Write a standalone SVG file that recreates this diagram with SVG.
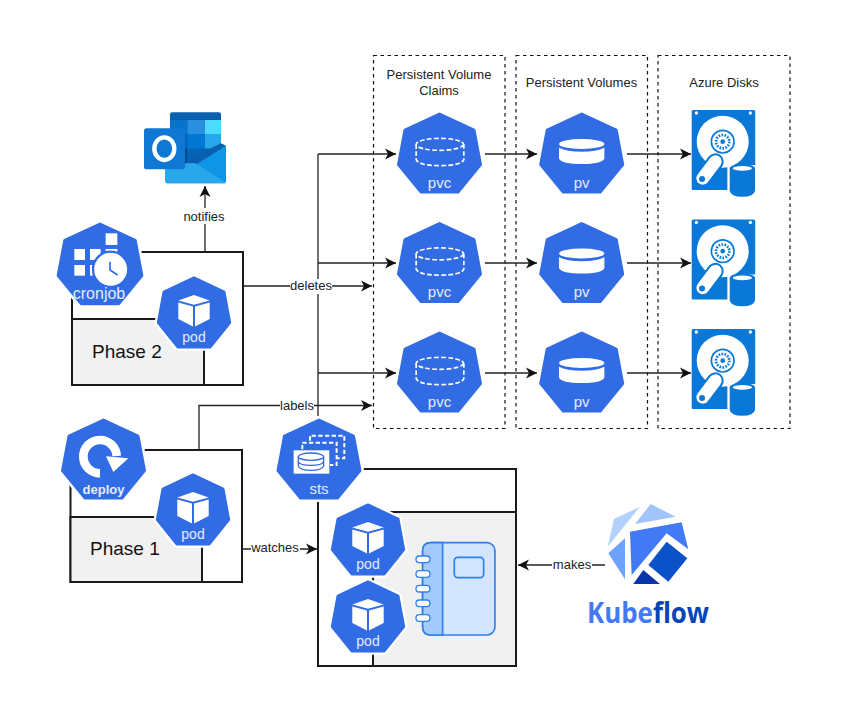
<svg xmlns="http://www.w3.org/2000/svg" xmlns:xlink="http://www.w3.org/1999/xlink" width="845" height="722" viewBox="0 0 845 722">
<style>
text{font-family:"Liberation Sans",Arial,sans-serif;fill:#222}
.t{font-size:13px;text-anchor:middle}
.ph{font-size:19px;fill:#111}
.k{font-size:14px;text-anchor:middle;fill:#e3ecfc}
.kf{fill:#326ce5;stroke:#326ce5;stroke-width:3;stroke-linejoin:round}
.ko{fill:#fff;stroke:#fff;stroke-width:8;stroke-linejoin:round}
.box{fill:#fff;stroke:#1a1a1a;stroke-width:2}
.gray{fill:#f1f1f1;stroke:#1a1a1a;stroke-width:2}
.dash{fill:none;stroke:#111;stroke-width:1.2;stroke-dasharray:3.5 3.5}
.c{fill:none;stroke:#222;stroke-width:1.3}
.a{marker-end:url(#arr)}
.lb{fill:#fff}
.w{fill:#fff}
.wl{fill:none;stroke:#fff}
</style>
<defs>
<marker id="arr" markerUnits="userSpaceOnUse" markerWidth="12" markerHeight="12" refX="11" refY="6" orient="auto">
<path d="M0,.5 L11,6 L0,11.5 L3,6 Z" fill="#111"/>
</marker>
<g id="hept">
<path class="ko" d="M0,2 L34.5,18 L41,52.5 L18.5,80 L-18.5,80 L-41,52.5 L-34.5,18 Z"/>
<path class="kf" d="M0,2 L34.5,18 L41,52.5 L18.5,80 L-18.5,80 L-41,52.5 L-34.5,18 Z"/>
</g>
<g id="pod">
<use xlink:href="#hept" href="#hept" transform="scale(.875 .89)"/>
<path class="w" d="M0,19 L15.7,24.5 L0,28.8 L-15.7,24.5 Z M-15.7,26.6 L-1,30.6 L-1,50.5 L-15.7,43 Z M15.7,26.6 L1,30.6 L1,50.5 L15.7,43 Z"/>
<text class="k" y="66">pod</text>
</g>
<g id="pvc">
<use xlink:href="#hept" href="#hept"/>
<g transform="scale(.3333) translate(-207 -185)" fill="none" stroke="#fff" stroke-width="5" stroke-dasharray="14 7">
<ellipse cx="208" cy="282" rx="71" ry="18"/>
<path d="M137,282 V328 Q145,346 208,346 Q272,346 280,328 V282"/>
</g>
<text class="k" y="75.500" style="font-size:15px">pvc</text>
</g>
<g id="pv">
<use xlink:href="#hept" href="#hept"/>
<g transform="scale(.3333) translate(-635 -185)">
<ellipse class="w" cx="635" cy="281" rx="68" ry="15"/>
<path class="w" d="M567,292 Q590,304 635,304 Q680,304 703,292 V325 Q695,341 635,341 Q575,341 567,325 Z"/>
</g>
<text class="k" y="75.500" style="font-size:15px">pv</text>
</g>
<g id="disk">
<rect x="0" y="0" width="63.500" height="80" rx="1.500" fill="#0a78d6"/>
<g transform="scale(.3333) translate(-35 -30)">
<circle cx="49" cy="39" r="5" class="w"/><circle cx="211" cy="39" r="5" class="w"/>
<circle cx="128" cy="125" r="78" class="w"/>
<circle cx="128" cy="125" r="34" class="w" stroke="#0a78d6" stroke-width="5"/>
<circle cx="128" cy="125" r="20" fill="none" stroke="#0a78d6" stroke-width="8" stroke-dasharray="5 4"/>
<circle cx="128" cy="125" r="7" fill="#0a78d6"/>
<path d="M68,235 L106,185" stroke="#0a78d6" stroke-width="50" stroke-linecap="round"/>
<path d="M68,235 L106,185" stroke="#fff" stroke-width="38" stroke-linecap="round"/>
<circle cx="66" cy="237" r="9" fill="#0a78d6"/>
<path d="M142,195 H232 V285 H142 Z" fill="#fff"/>
<path d="M149,205 V272 Q152,290 187,290 Q222,290 225,272 V205 Z" fill="#0a78d6"/>
<ellipse cx="187" cy="205" rx="38" ry="13" fill="#0a78d6"/>
<ellipse cx="187" cy="205" rx="29" ry="7" fill="#fff"/>
</g>
</g>
</defs>

<g id="panel-pvc"><rect class="dash" x="373.500" y="55.500" width="131.500" height="373"/><text class="t" x="439" y="79">Persistent Volume</text><text class="t" x="439" y="95">Claims</text></g>
<g id="panel-pv"><rect class="dash" x="516" y="55.500" width="131.500" height="373"/><text class="t" x="581.500" y="87">Persistent Volumes</text></g>
<g id="panel-disks"><rect class="dash" x="658" y="55.500" width="132" height="373"/><text class="t" x="724" y="87">Azure Disks</text></g>

<g id="phase2"><rect class="box" x="72" y="252" width="171" height="133"/><rect class="gray" x="72" y="319" width="132" height="66"/><text class="ph" x="92" y="358">Phase 2</text></g>
<g id="phase1"><rect class="box" x="70.500" y="450" width="171.500" height="132"/><rect class="gray" x="70.500" y="517" width="131.500" height="65"/><text class="ph" x="90" y="555">Phase 1</text></g>
<g id="statefulset-box"><rect class="box" x="318" y="469" width="198" height="197"/><rect class="gray" x="373" y="512" width="143" height="154"/></g>

<g id="connectors">
<path class="c a" d="M205,252 V186"/>
<path class="c" d="M318,416 V154"/>
<path class="c a" d="M318,154 H396"/>
<path class="c a" d="M318,263 H396"/>
<path class="c a" d="M318,373 H396"/>
<path class="c a" d="M243,286 H372"/>
<path class="c a" d="M199,450 V405.500 H372"/>
<path class="c a" d="M242,549 H317"/>
<path class="c a" d="M605,565 H518"/>
<path class="c a" d="M485,154 H537"/><path class="c a" d="M485,263 H537"/><path class="c a" d="M485,373 H537"/>
<path class="c a" d="M627,154 H691"/><path class="c a" d="M627,263 H691"/><path class="c a" d="M627,373 H691"/>
<rect class="lb" x="183" y="208" width="43" height="16"/><text class="t" x="204" y="221">notifies</text>
<rect class="lb" x="290" y="279" width="42" height="15"/><text class="t" x="311" y="290">deletes</text>
<rect class="lb" x="280" y="398" width="34" height="15"/><text class="t" x="297" y="410">labels</text>
<rect class="lb" x="251" y="541" width="49" height="15"/><text class="t" x="275" y="552">watches</text>
<rect class="lb" x="552" y="558" width="40" height="15"/><text class="t" x="572" y="569">makes</text>
</g>

<g id="outlook" transform="translate(130 100) scale(.3333)">
<rect x="120" y="37" width="153" height="155" rx="6" fill="#0a5fae"/>
<rect x="172" y="60" width="53" height="42" fill="#2b8fe0"/><rect x="225" y="60" width="48" height="42" fill="#50d9ff"/>
<rect x="120" y="60" width="52" height="42" fill="#0873cf"/>
<rect x="172" y="102" width="53" height="44" fill="#0078d4"/><rect x="225" y="102" width="48" height="44" fill="#28a8ea"/>
<rect x="120" y="102" width="52" height="44" fill="#0364b8"/>
<rect x="120" y="146" width="52" height="46" fill="#064a8c"/><rect x="172" y="146" width="101" height="46" fill="#0364b8"/>
<path d="M288,137 L172,196 L105,196 V240 Q105,250 115,250 H280 Q288,250 288,242 Z" fill="#0f95e6"/>
<path d="M273,130 L288,137 L196,195 L172,180 Z" fill="#0a5fae"/>
<path d="M105,190 L196,190 L288,248 Q286,250 280,250 H115 Q105,250 105,240 Z" fill="#28a8ea"/>
<rect x="42" y="85" width="123" height="123" rx="8" fill="#0f78d4"/>
<ellipse cx="103" cy="146" rx="30" ry="34" fill="none" stroke="#fff" stroke-width="13"/>
</g>

<g id="cronjob">
<use xlink:href="#hept" href="#hept" transform="translate(100 222) scale(1.02)"/>
<g transform="translate(40 100) scale(.3333)">
<rect class="w" x="103" y="447" width="32" height="33"/><rect class="w" x="150" y="447" width="32" height="33"/><rect class="w" x="197" y="400" width="35" height="35"/><rect class="w" x="197" y="447" width="35" height="20"/><rect class="w" x="103" y="495" width="32" height="32"/><rect class="w" x="150" y="495" width="32" height="32"/>
<circle cx="212" cy="508" r="53" fill="#fff" stroke="#326ce5" stroke-width="7"/>
<path d="M210,485 V510 L233,525" fill="none" stroke="#326ce5" stroke-width="5"/>
</g>
<text class="k" x="99" y="299" style="font-size:16px">cronjob</text>
</g>
<use id="pod-phase2" xlink:href="#pod" href="#pod" transform="translate(194 276)"/>

<g id="deploy">
<use xlink:href="#hept" href="#hept" transform="translate(103.500 418)"/>
<g transform="translate(50 390) scale(.3333)">
<path class="wl" d="M150,250 A50,50 0 1 1 200,198" stroke-width="26"/>
<path class="w" d="M168,199 L235,205 L190,246 Z"/>
</g>
<text class="k" x="103.500" y="494" style="font-size:13px;font-weight:bold">deploy</text>
</g>
<use id="pod-phase1" xlink:href="#pod" href="#pod" transform="translate(193 473)"/>

<g id="sts">
<use xlink:href="#hept" href="#hept" transform="translate(319 418)"/>
<g transform="translate(50 390) scale(.3333)" fill="none" stroke="#fff">
<path d="M780,152 V137 H883 V205 H862" stroke-width="6" stroke-dasharray="13 7"/>
<path d="M757,178 V158 H860 V225 H840" stroke-width="6" stroke-dasharray="13 7"/>
<rect x="731" y="181" width="107" height="70" fill="#fff" stroke="none"/>
<ellipse cx="783" cy="200" rx="38" ry="11" stroke="#326ce5" stroke-width="4"/>
<path d="M745,200 V228 Q750,241 783,241 Q816,241 821,228 V200 M745,215 Q750,226 783,226 Q816,226 821,215" stroke="#326ce5" stroke-width="4"/>
</g>
<text class="k" x="319" y="494" style="font-size:15px">sts</text>
</g>

<use id="pod-nb1" xlink:href="#pod" href="#pod" transform="translate(368 503)"/>
<use id="pod-nb2" xlink:href="#pod" href="#pod" transform="translate(368 580)"/>

<g id="notebook" transform="translate(50 390) scale(.3333)">
<rect x="1118" y="458" width="217" height="277" rx="24" fill="#d4e6ff" stroke="#2e80ea" stroke-width="5"/>
<path d="M1178,458 H1142 Q1118,458 1118,482 V711 Q1118,735 1142,735 H1178 Z" fill="#a4c9fc" stroke="#2e80ea" stroke-width="5"/>
<rect x="1213" y="502" width="88" height="61" rx="10" fill="none" stroke="#2e80ea" stroke-width="5"/>
<g fill="#fff" stroke="#2e80ea" stroke-width="4">
<rect x="1098" y="498" width="42" height="20" rx="10"/><rect x="1098" y="542" width="42" height="20" rx="10"/><rect x="1098" y="586" width="42" height="20" rx="10"/><rect x="1098" y="630" width="42" height="20" rx="10"/><rect x="1098" y="674" width="42" height="20" rx="10"/>
</g>
</g>

<use id="pvc1" xlink:href="#pvc" href="#pvc" transform="translate(439.500 112)"/>
<use id="pvc2" xlink:href="#pvc" href="#pvc" transform="translate(439.500 221.500)"/>
<use id="pvc3" xlink:href="#pvc" href="#pvc" transform="translate(439.500 331)"/>
<use id="pv1" xlink:href="#pv" href="#pv" transform="translate(581.700 112)"/>
<use id="pv2" xlink:href="#pv" href="#pv" transform="translate(581.700 221.500)"/>
<use id="pv3" xlink:href="#pv" href="#pv" transform="translate(581.700 331)"/>
<use id="disk1" xlink:href="#disk" href="#disk" transform="translate(691.700 110)"/>
<use id="disk2" xlink:href="#disk" href="#disk" transform="translate(691.700 219.500)"/>
<use id="disk3" xlink:href="#disk" href="#disk" transform="translate(691.700 329)"/>

<g id="kubeflow">
<g transform="translate(510 490) scale(.3333)">
<path d="M390,50 L312,87 L293,170 Z" fill="#b3d1ff"/>
<path d="M422,42 L497,80 L375,102 Z" fill="#a0c4fb"/>
<path d="M360,125 L515,97 L535,178 L470,130 L365,255 Z" fill="#4279f4"/>
<path d="M345,145 V268 L295,190 Z" fill="#6ea2fb"/>
<path d="M470,155 L532,205 L475,275 L415,225 Z" fill="#0b52c9"/>
<path d="M400,240 L450,282 H370 Z" fill="#0a35a8"/>
</g>
<text x="587" y="623" style="font-family:'Open Sans',sans-serif;font-size:28px;font-weight:700" textLength="122" lengthAdjust="spacingAndGlyphs"><tspan style="fill:#4279f4">Kube</tspan><tspan style="fill:#0545b8">flow</tspan></text>
</g>
</svg>
